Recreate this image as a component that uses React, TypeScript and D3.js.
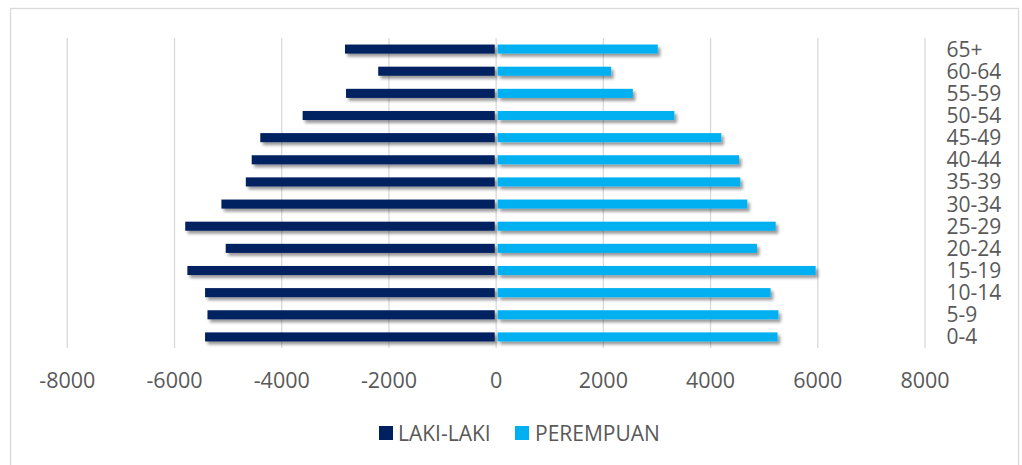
import React from 'react';
import * as d3 from 'd3';

// age groups, top to bottom as drawn
const groups = ['65+', '60-64', '55-59', '50-54', '45-49', '40-44', '35-39', '30-34', '25-29', '20-24', '15-19', '10-14', '5-9', '0-4'];
const lakiLaki = [-2820, -2200, -2800, -3610, -4400, -4560, -4670, -5125, -5800, -5045, -5760, -5430, -5385, -5430];
const perempuan = [3015, 2145, 2550, 3325, 4200, 4530, 4555, 4685, 5215, 4865, 5960, 5120, 5265, 5250];
const ticks = [-8000, -6000, -4000, -2000, 0, 2000, 4000, 6000, 8000];

const W = 1022;
const H = 465;
const font = '"Open Sans", "DejaVu Sans", sans-serif';
const textColor = '#595959';
const navy = '#002060';
const cyan = '#00B0F0';

export default function App() {
  const x = d3.scaleLinear().domain([-8000, 8000]).range([67.3, 925]);
  const y = d3.scaleBand<string>().domain(groups).range([38, 348]).paddingInner(0.59).paddingOuter(0.295);
  const gap = 1.4;
  const x0 = x(0);

  return (
    <svg width={W} height={H} style={{ position: 'absolute', left: 0, top: 0, background: '#fff' }} fontFamily={font}>
      <defs>
        <filter id="shadow" x="-10%" y="-50%" width="120%" height="250%">
          <feDropShadow dx="2.5" dy="3" stdDeviation="1.8" floodColor="#000" floodOpacity="0.4" />
        </filter>
      </defs>
      <rect x={10.5} y={8.5} width={1008} height={480} fill="#fff" stroke="#d9d9d9" strokeWidth={1.3} />

      {ticks.map(t => (
        <line key={'g' + t} x1={x(t)} x2={x(t)} y1={38} y2={348} stroke="#d9d9d9" strokeWidth={1.3} />
      ))}

      <g filter="url(#shadow)">
        {groups.map((g, i) => (
          <rect key={'m' + g} x={x(lakiLaki[i])} y={y(g)} width={x0 - gap - x(lakiLaki[i])} height={y.bandwidth()} fill={navy} />
        ))}
        {groups.map((g, i) => (
          <rect key={'f' + g} x={x0 + gap} y={y(g)} width={x(perempuan[i]) - x0 - gap} height={y.bandwidth()} fill={cyan} />
        ))}
      </g>

      {ticks.map(t => (
        <text key={'t' + t} x={x(t)} y={387.5} textAnchor="middle" fontSize={21.5} fill={textColor}>{t}</text>
      ))}

      {groups.map(g => (
        <text key={'l' + g} x={946.5} y={(y(g) as number) + y.bandwidth() / 2} dy="0.36em" fontSize={21} fill={textColor}>{g}</text>
      ))}

      <g>
        <rect x={379} y={426} width={14} height={14} fill={navy} />
        <text x={398} y={440.5} fontSize={21} fill={textColor}>LAKI-LAKI</text>
        <rect x={515} y={426} width={14} height={14} fill={cyan} />
        <text x={535} y={440.5} fontSize={21} fill={textColor}>PEREMPUAN</text>
      </g>
    </svg>
  );
}
